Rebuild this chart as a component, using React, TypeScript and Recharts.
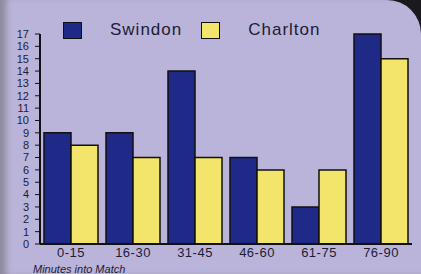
import React from "react";
import { BarChart, Bar, XAxis, YAxis, Legend } from "recharts";

const categories = ["0-15", "16-30", "31-45", "46-60", "61-75", "76-90"];
const swindon = [9, 9, 14, 7, 3, 17];
const charlton = [8, 7, 7, 6, 6, 15];
const yTicks = [0, 1, 2, 3, 4, 5, 6, 7, 8, 9, 10, 11, 12, 13, 14, 15, 16, 17];

const data = categories.map((c, i) => ({ range: c, swindon: swindon[i], charlton: charlton[i] }));

const NAVY = "#1f2a88";
const YELLOW = "#f3e56c";
const INK = "#1c1c34";

function LegendBox() {
  const item = (color: string, label: string, gap: number) => (
    <div style={{ display: "flex", alignItems: "center", marginRight: gap }}>
      <div style={{ width: 19, height: 17, background: color, border: "1px solid #111", boxSizing: "border-box" }} />
      <span style={{ marginLeft: 28, fontSize: 17, letterSpacing: 1, color: INK }}>{label}</span>
    </div>
  );
  return (
    <div style={{ display: "flex", fontFamily: "Liberation Sans, Arial, sans-serif" }}>
      {item(NAVY, "Swindon", 19)}
      {item(YELLOW, "Charlton", 0)}
    </div>
  );
}

export default function App() {
  return (
    <div style={{ position: "absolute", top: 0, left: 0, width: 421, height: 274, background: "#1a1a1e", overflow: "hidden" }}>
      <div
        style={{
          position: "absolute",
          inset: 0,
          background: "#bbb4da",
          borderTopRightRadius: 34,
          boxShadow: "inset 9px 0 6px -3px #8e8a9c",
        }}
      />
      <div style={{ position: "absolute", top: 0, left: 0 }}>
        <BarChart
          width={421}
          height={274}
          data={data}
          margin={{ top: 14, right: 9, bottom: 0, left: 0 }}
          barCategoryGap={4}
          barGap={0}
        >
          <YAxis
            width={40}
            domain={[0, 17]}
            ticks={yTicks}
            interval={0}
            axisLine={{ stroke: "#111", strokeWidth: 2 }}
            tickLine={{ stroke: "#111" }}
            tickSize={5}
            tickMargin={6}
            tick={{ fill: INK, fontSize: 11, fontFamily: "Liberation Sans Narrow, Liberation Sans, sans-serif" }}
          />
          <XAxis
            dataKey="range"
            height={30}
            axisLine={{ stroke: "#111", strokeWidth: 2 }}
            tickLine={false}
            tickSize={3}
            tickMargin={1}
            tick={{ fill: INK, fontSize: 13, letterSpacing: 0.5, fontFamily: "Liberation Sans, Arial, sans-serif" }}
            label={{
              content: () => (
                <text x={33} y={273} fill={INK} fontSize={11} fontStyle="italic" fontFamily="Liberation Sans, Arial, sans-serif">
                  Minutes into Match
                </text>
              ),
            }}
          />
          <Legend
            content={() => <LegendBox />}
            verticalAlign="top"
            wrapperStyle={{ position: "absolute", top: 20, left: 63, width: "auto" }}
          />
          <Bar dataKey="swindon" name="Swindon" fill={NAVY} stroke="#111" strokeWidth={1.5} isAnimationActive={false} />
          <Bar dataKey="charlton" name="Charlton" fill={YELLOW} stroke="#111" strokeWidth={1.5} isAnimationActive={false} />
        </BarChart>
      </div>
    </div>
  );
}
